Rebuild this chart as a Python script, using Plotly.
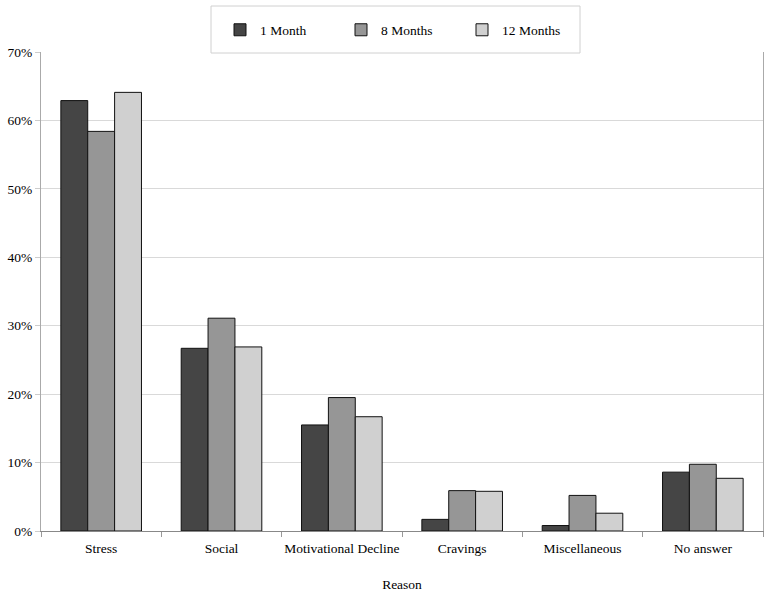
import plotly.graph_objects as go

categories = ["Stress", "Social", "Motivational Decline", "Cravings", "Miscellaneous", "No answer"]
month1 = [62.9, 26.7, 15.5, 1.7, 0.8, 8.6]
month8 = [58.4, 31.1, 19.5, 5.9, 5.2, 9.75]
month12 = [64.1, 26.9, 16.7, 5.8, 2.6, 7.7]
series_names = ["1 Month", "8 Months", "12 Months"]
colors = ["#454545", "#969696", "#d0d0d0"]

fig = go.Figure()
for name, vals, col in zip(series_names, [month1, month8, month12], colors):
    fig.add_trace(go.Bar(
        x=categories, y=vals, name=name,
        marker=dict(color=col, line=dict(color="#111111", width=1)),
    ))

font = dict(family="Liberation Serif, Times New Roman, serif", size=13.5, color="#000000")

# plot area in pixels: x 41..763, y 52..531
L, R, T, B = 41, 9, 52, 64
PW, PH = 772 - L - R, 595 - T - B

def px_x(p):
    return (p - L) / PW

def px_y(p):
    return 1 + (T - p) / PH

fig.add_shape(type="rect", xref="paper", yref="paper",
              x0=px_x(211), x1=px_x(580), y0=px_y(53), y1=px_y(6),
              fillcolor="white", line=dict(color="#d0d0d0", width=1), layer="above")

fig.update_layout(
    width=772, height=595,
    margin=dict(l=L, r=R, t=T, b=B, autoexpand=False),
    paper_bgcolor="white", plot_bgcolor="white",
    font=font,
    barmode="group", bargap=0.33, bargroupgap=0,
    showlegend=True,
    legend=dict(
        orientation="h", x=px_x(220), xanchor="left", y=px_y(30), yanchor="middle",
        bgcolor="rgba(0,0,0,0)", borderwidth=0,
        entrywidth=76, entrywidthmode="pixels",
        font=font,
    ),
    xaxis=dict(
        title=dict(text="Reason", font=font, standoff=24),
        showline=True, linecolor="#888888", linewidth=1,
        ticks="outside", tickson="boundaries", ticklen=5, tickcolor="#999999",
        showgrid=False, mirror=False, automargin=False,
        ticklabelstandoff=5, tickangle=0,
    ),
    yaxis=dict(
        range=[0, 70], dtick=10, ticksuffix="%",
        showline=True, linecolor="#aaaaaa", linewidth=1, mirror=True,
        ticks="outside", ticklen=5, tickcolor="#cccccc",
        showgrid=True, gridcolor="#d9d9d9", gridwidth=1,
        zeroline=False, automargin=False,
    ),
)

fig.write_html("out.html", config={"displayModeBar": False},
               post_script="document.body.style.margin='0';")
